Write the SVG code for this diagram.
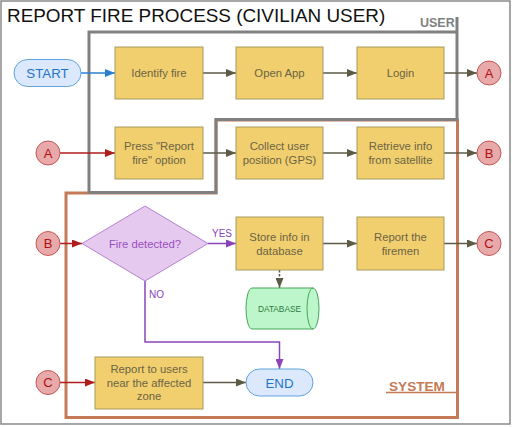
<svg xmlns="http://www.w3.org/2000/svg" width="512" height="427" viewBox="0 0 512 427">
<style>
text{font-family:"Liberation Sans",Arial,sans-serif}
.box{fill:#f1cf6f;stroke:#a89a5c;stroke-width:1}
.bt{font-size:11.3px;fill:#6b6444;text-anchor:middle}
.term{fill:#dce8fb;stroke:#5ea3e0;stroke-width:1}
.tt{font-size:13.3px;fill:#1f74cc;text-anchor:middle}
.conn{fill:#e7a9a9;stroke:#c55555;stroke-width:1}
.ct{font-size:13px;fill:#b01010;text-anchor:middle}
.ln{fill:none;stroke-width:1.5}
.ol{stroke:#5d5a45}
.rd{stroke:#b01c1c}
.bl{stroke:#2a7fd0}
.pu{stroke:#8a44b8}
.lbl{font-size:10px;fill:#8a44b8}
</style>
<defs>
<marker id="aOl" markerUnits="userSpaceOnUse" markerWidth="10" markerHeight="8" refX="10" refY="4" orient="auto"><path d="M0,0L10,4L0,8z" fill="#5d5a45"/></marker>
<marker id="aRd" markerUnits="userSpaceOnUse" markerWidth="10" markerHeight="8" refX="10" refY="4" orient="auto"><path d="M0,0L10,4L0,8z" fill="#b01c1c"/></marker>
<marker id="aBl" markerUnits="userSpaceOnUse" markerWidth="10" markerHeight="8" refX="10" refY="4" orient="auto"><path d="M0,0L10,4L0,8z" fill="#2a7fd0"/></marker>
<marker id="aPu" markerUnits="userSpaceOnUse" markerWidth="10" markerHeight="8" refX="10" refY="4" orient="auto"><path d="M0,0L10,4L0,8z" fill="#8a44b8"/></marker>
</defs>
<rect x="0" y="0" width="512" height="427" fill="#ffffff"/>
<rect x="1" y="1" width="509" height="423" fill="none" stroke="#8a8a8a" stroke-width="1.5"/>
<text x="7" y="22" font-size="18.9" fill="#111111">REPORT FIRE PROCESS (CIVILIAN USER)</text>

<g id="system-lane">
<path d="M66,193 H216 V120 H457.5 V417.5 H66 Z" fill="none" stroke="#c47a56" stroke-width="3"/>
<text x="389" y="391" font-size="13.6" font-weight="bold" fill="#c47a56">SYSTEM</text>
<line x1="386" y1="392.5" x2="457" y2="392.5" stroke="#c47a56" stroke-width="1.5"/>
</g>
<g id="user-lane">
<path d="M457,17 V119.5 H216 V192.5 H89 V32 H457" fill="none" stroke="#808080" stroke-width="3"/>
<text x="420" y="27" font-size="12.5" font-weight="bold" fill="#808080">USER</text>
</g>

<g id="connectors">
<line class="ln bl" x1="81" y1="73" x2="115" y2="73" marker-end="url(#aBl)"/>
<line class="ln ol" x1="203" y1="73" x2="236" y2="73" marker-end="url(#aOl)"/>
<line class="ln ol" x1="323" y1="73" x2="357" y2="73" marker-end="url(#aOl)"/>
<line class="ln ol" x1="444" y1="73" x2="477" y2="73" marker-end="url(#aOl)"/>
<line class="ln rd" x1="60" y1="153" x2="115" y2="153" marker-end="url(#aRd)"/>
<line class="ln ol" x1="203" y1="153" x2="236" y2="153" marker-end="url(#aOl)"/>
<line class="ln ol" x1="323" y1="153" x2="357" y2="153" marker-end="url(#aOl)"/>
<line class="ln ol" x1="444" y1="153" x2="477" y2="153" marker-end="url(#aOl)"/>
<line class="ln rd" x1="60" y1="243.5" x2="82" y2="243.5" marker-end="url(#aRd)"/>
<line class="ln pu" x1="208" y1="243.5" x2="236" y2="243.5" marker-end="url(#aPu)"/>
<text class="lbl" x="212" y="237">YES</text>
<line class="ln ol" x1="323" y1="243.5" x2="357" y2="243.5" marker-end="url(#aOl)"/>
<line class="ln ol" x1="444" y1="243.5" x2="477" y2="243.5" marker-end="url(#aOl)"/>
<line class="ln ol" x1="279.5" y1="270" x2="279.5" y2="288" stroke-dasharray="2.5,1.5" marker-end="url(#aOl)"/>
<path class="ln pu" d="M145,281 V342 H279.5 V369" marker-end="url(#aPu)"/>
<text class="lbl" x="149" y="298">NO</text>
<line class="ln rd" x1="60" y1="382.5" x2="95" y2="382.5" marker-end="url(#aRd)"/>
<line class="ln ol" x1="203" y1="382.5" x2="246" y2="382.5" marker-end="url(#aOl)"/>
</g>

<g id="start"><rect class="term" x="14" y="59.5" width="67" height="27" rx="13.5"/><text class="tt" x="47.5" y="78">START</text></g>
<g id="identify-fire"><rect class="box" x="115" y="47" width="88" height="52"/><text class="bt" x="159" y="76.5">Identify fire</text></g>
<g id="open-app"><rect class="box" x="236" y="47" width="87" height="52"/><text class="bt" x="279.5" y="76.5">Open App</text></g>
<g id="login"><rect class="box" x="357" y="47" width="87" height="52"/><text class="bt" x="400.5" y="76.5">Login</text></g>
<g id="conn-a-out"><circle class="conn" cx="489" cy="73" r="12"/><text class="ct" x="489" y="77.7">A</text></g>

<g id="conn-a-in"><circle class="conn" cx="48" cy="153" r="12"/><text class="ct" x="48" y="157.7">A</text></g>
<g id="press-report"><rect class="box" x="115" y="127" width="88" height="52"/><text class="bt" x="159" y="150">Press "Report</text><text class="bt" x="159" y="164">fire" option</text></g>
<g id="collect-position"><rect class="box" x="236" y="127" width="87" height="52"/><text class="bt" x="279.5" y="150">Collect user</text><text class="bt" x="279.5" y="164">position (GPS)</text></g>
<g id="retrieve-info"><rect class="box" x="357" y="127" width="87" height="52"/><text class="bt" x="400.5" y="150">Retrieve info</text><text class="bt" x="400.5" y="164">from satellite</text></g>
<g id="conn-b-out"><circle class="conn" cx="489" cy="153" r="12"/><text class="ct" x="489" y="157.7">B</text></g>

<g id="conn-b-in"><circle class="conn" cx="48" cy="243.5" r="12"/><text class="ct" x="48" y="248.2">B</text></g>
<g id="fire-detected"><path d="M82,243.5 L145,206 L208,243.5 L145,281 Z" fill="#e6c9ee" stroke="#b483d0" stroke-width="1"/><text x="145" y="247.5" font-size="11.3" fill="#9a4fc2" text-anchor="middle">Fire detected?</text></g>
<g id="store-info"><rect class="box" x="236" y="217" width="87" height="53"/><text class="bt" x="279.5" y="240.5">Store info in</text><text class="bt" x="279.5" y="254.5">database</text></g>
<g id="report-firemen"><rect class="box" x="357" y="217" width="87" height="53"/><text class="bt" x="400.5" y="240.5">Report the</text><text class="bt" x="400.5" y="254.5">firemen</text></g>
<g id="conn-c-out"><circle class="conn" cx="489" cy="243.5" r="12"/><text class="ct" x="489" y="248.2">C</text></g>

<g id="database"><path d="M252,288 H313 A6,20.5 0 0 1 313,329 H252 A6,20.5 0 0 1 252,288 Z" fill="#bdf6cb" stroke="#43a558" stroke-width="1"/><path d="M313,288 A6,20.5 0 0 0 313,329" fill="none" stroke="#43a558" stroke-width="1"/><text x="279.5" y="311.5" font-size="8.3" fill="#2d7a3d" text-anchor="middle">DATABASE</text></g>

<g id="conn-c-in"><circle class="conn" cx="48" cy="382.5" r="12"/><text class="ct" x="48" y="387.2">C</text></g>
<g id="report-users"><rect class="box" x="95" y="357" width="108" height="52"/><text class="bt" x="149" y="373">Report to users</text><text class="bt" x="149" y="386.5">near the affected</text><text class="bt" x="149" y="400">zone</text></g>
<g id="end"><rect class="term" x="246" y="369" width="67" height="27" rx="13.5"/><text class="tt" x="279.5" y="387.5">END</text></g>
</svg>
